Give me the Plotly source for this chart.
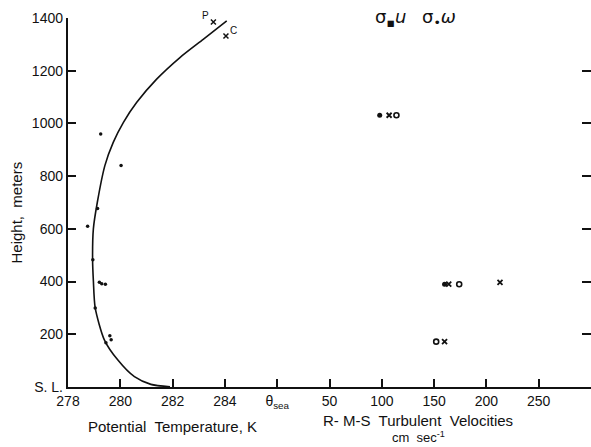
import plotly.graph_objects as go

# ---- data ----
# smoothed potential temperature profile (K) vs height (m)
curve_T = [281.9, 281.17, 280.54, 279.9, 279.39, 279.04, 278.97, 278.94, 278.97, 279.12,
           279.41, 279.73, 280.12, 280.63, 281.39, 282.28, 283.17, 284.07]
curve_h = [1, 10, 39, 103, 179, 300, 403, 483, 600, 700, 840, 928, 1004, 1080, 1168, 1250, 1319, 1389]

# observed potential temperature points
obs_T = [278.75, 279.25, 280.03, 279.2, 279.29, 279.43, 279.6, 279.65, 279.45, 279.13, 278.95, 279.04]
obs_h = [610, 960, 840, 397, 392, 390, 194, 179, 168, 677, 483, 300]

# P and C points
pc_T = [283.56, 284.04]
pc_h = [1385, 1332]
pc_lab = ["P", "C"]

# RMS turbulent velocities (cm/s)
dot_v = [98, 160]
dot_h = [1031, 390]
x_v = [107, 164, 213, 160]
x_h = [1031, 390, 397, 172]
circ_v = [114, 174, 152]
circ_h = [1031, 390, 172]

t_ticks = [278, 280, 282, 284]
v_ticks = [50, 100, 150, 200, 250]
h_ticks = [0, 200, 400, 600, 800, 1000, 1200, 1400]
h_labels = ["S. L.", "200", "400", "600", "800", "1000", "1200", "1400"]

T0 = 278.0
THETA_SEA = 286.0


def tx(T):
    return T - T0


def vx(v):
    return (THETA_SEA - T0) + v / 25.0


FONT = "Liberation Sans"
INK = "#111111"

fig = go.Figure()
fig.add_trace(go.Scatter(x=[tx(t) for t in curve_T], y=curve_h, mode="lines",
                         line=dict(color=INK, width=1.6, shape="spline", smoothing=0.7),
                         hoverinfo="skip"))
fig.add_trace(go.Scatter(x=[tx(t) for t in obs_T], y=obs_h, mode="markers",
                         marker=dict(color=INK, size=3.5)))
fig.add_trace(go.Scatter(x=[tx(t) for t in pc_T], y=pc_h, mode="markers",
                         marker=dict(color=INK, size=5, symbol="x-thin",
                                     line=dict(width=1.5, color=INK))))
fig.add_trace(go.Scatter(x=[vx(v) for v in dot_v], y=dot_h, mode="markers",
                         marker=dict(color=INK, size=5)))
fig.add_trace(go.Scatter(x=[vx(v) for v in x_v], y=x_h, mode="markers",
                         marker=dict(color=INK, size=5, symbol="x-thin",
                                     line=dict(width=1.8, color=INK))))
fig.add_trace(go.Scatter(x=[vx(v) for v in circ_v], y=circ_h, mode="markers",
                         marker=dict(color="white", size=5, symbol="circle",
                                     line=dict(width=1.6, color=INK))))
# mirrored right-hand ticks
fig.add_trace(go.Scatter(x=[None], y=[None], yaxis="y2", showlegend=False))

tickvals = [tx(t) for t in t_ticks] + [tx(THETA_SEA)] + [vx(v) for v in v_ticks]
ticktext = [str(t) for t in t_ticks] + ["θ<sub>sea</sub>"] + [str(v) for v in v_ticks]

fig.update_layout(
    width=591, height=447,
    margin=dict(l=68, r=0, t=18, b=60),
    paper_bgcolor="white", plot_bgcolor="white",
    showlegend=False,
    font=dict(family=FONT, size=14, color=INK),
    xaxis=dict(range=[0, 20.0], showgrid=False, zeroline=False,
               showline=True, linecolor=INK, linewidth=1.6,
               ticks="inside", ticklen=8, tickwidth=1.5, tickcolor=INK,
               tickvals=tickvals, ticktext=ticktext,
               tickfont=dict(size=14, family=FONT, color=INK)),
    yaxis=dict(range=[0, 1400], showgrid=False, zeroline=False,
               showline=True, linecolor=INK, linewidth=2.4,
               ticks="inside", ticklen=8, tickwidth=1.5, tickcolor=INK,
               tickvals=h_ticks, ticktext=h_labels,
               tickfont=dict(size=14, family=FONT, color=INK)),
    yaxis2=dict(range=[0, 1400], overlaying="y", side="right", showgrid=False,
                zeroline=False, showline=False, ticks="inside", ticklen=9,
                tickwidth=1.5, tickcolor=INK, tickvals=h_ticks[1:],
                showticklabels=False),
)

for lab, t, h, dx, dy in [(pc_lab[0], pc_T[0], pc_h[0], -8, -6), (pc_lab[1], pc_T[1], pc_h[1], 8, -5)]:
    fig.add_annotation(x=tx(t), y=h, xref="x", yref="y", text=lab, showarrow=False,
                       xshift=dx, yshift=-dy, font=dict(size=10, family=FONT, color=INK))

fig.add_annotation(x=vx(108), y=1, xref="x", yref="paper", text="σ<sub>▪</sub><i>u</i>",
                   showarrow=False, yanchor="middle", yshift=0,
                   font=dict(size=18, family="DejaVu Sans", color=INK))
fig.add_annotation(x=vx(155), y=1, xref="x", yref="paper", text="σ<sub>•</sub><i>ω</i>",
                   showarrow=False, yanchor="middle", yshift=0,
                   font=dict(size=18, family="DejaVu Sans", color=INK))

fig.add_annotation(x=tx(282), y=0, xref="x", yref="paper", yanchor="top", yshift=-29,
                   text="Potential  Temperature, K", showarrow=False,
                   font=dict(size=15, family=FONT, color=INK))
fig.add_annotation(x=vx(135), y=0, xref="x", yref="paper", yanchor="top", yshift=-23,
                   text="R- M-S  Turbulent  Velocities", showarrow=False,
                   font=dict(size=15, family=FONT, color=INK))
fig.add_annotation(x=vx(135), y=0, xref="x", yref="paper", yanchor="top", yshift=-40,
                   text="cm  sec<sup>-1</sup>", showarrow=False,
                   font=dict(size=13, family=FONT, color=INK))
fig.add_annotation(x=0, y=0.5, xref="paper", yref="paper", xanchor="center",
                   xshift=-52, yshift=-10, textangle=-90,
                   text="Height,  meters", showarrow=False,
                   font=dict(size=15, family=FONT, color=INK))

fig.write_html("out.html")
